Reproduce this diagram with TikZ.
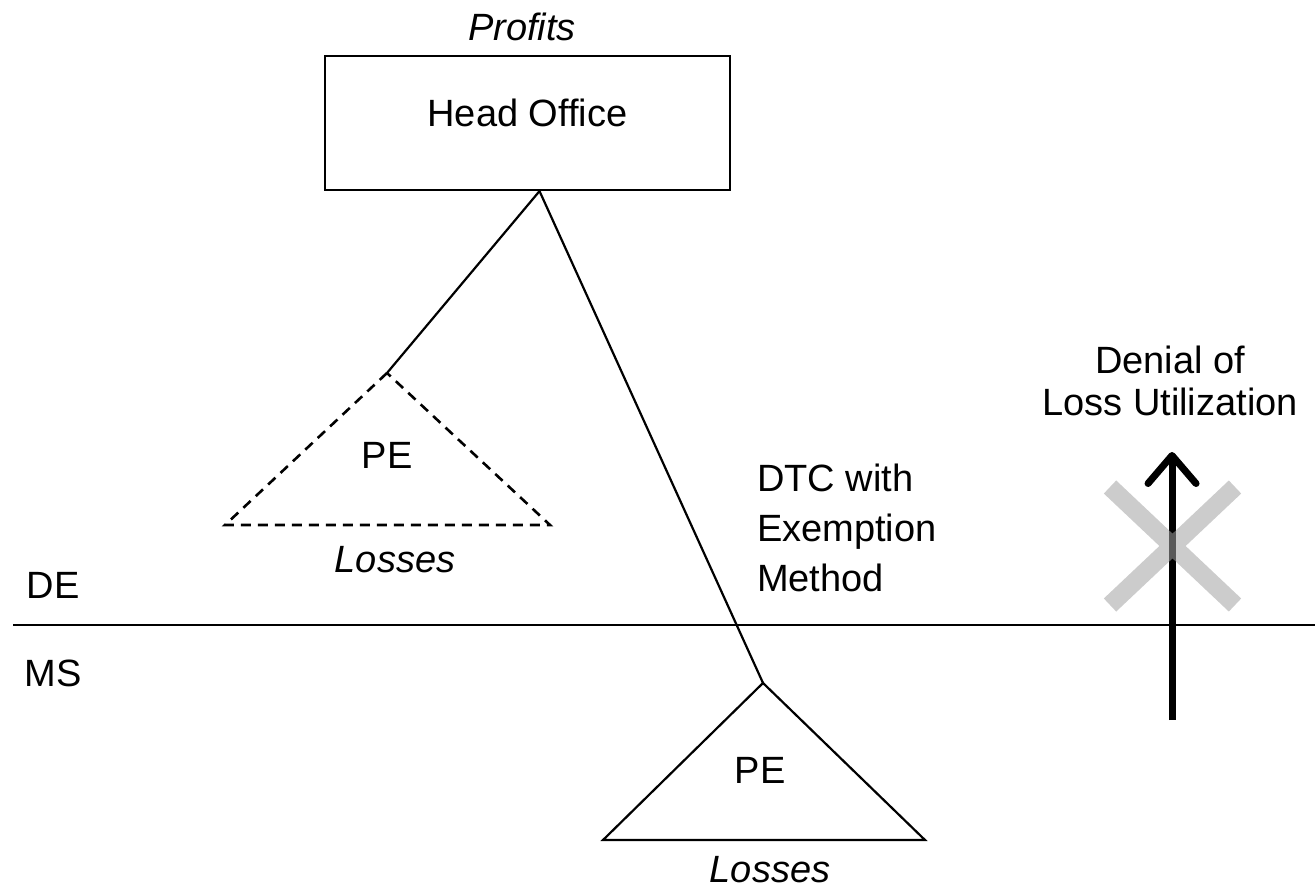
\documentclass[tikz,border=0pt]{standalone}
\usepackage{fontspec}
\setmainfont{Liberation Sans}
\usetikzlibrary{arrows.meta}
\usetikzlibrary{positioning}

\tikzset{
  every node/.style={font=\fontsize{19}{23}\selectfont, inner sep=0pt},
  lbl it/.style={font=\fontsize{19}{23}\selectfont\itshape},
  pe dashed/.style={line width=1.3pt, dash pattern=on 5pt off 3.5pt},
  cross mark/.style={line width=9pt, draw=black!36, opacity=0.55}
}

\begin{document}
\begin{tikzpicture}[x=0.5pt, y=-0.5pt, line width=1.1pt]

\useasboundingbox (0,0) rectangle (1315,888);

% head office
\node [draw, minimum width=202.5pt, minimum height=67pt] (ho) at (527.5,123) {};
\node (ho-text) at ([yshift=5pt]ho.center) {Head Office};
\node [lbl it] (profits) at (522,27) {Profits};

% the two permanent establishments
\coordinate (apex-de) at (387,373);
\coordinate (apex-ms) at (763,683);

\draw ([xshift=6pt]ho.south) -- (apex-de);
\draw ([xshift=6pt]ho.south) -- (apex-ms);

\draw [pe dashed] (apex-de) -- (225,525) -- (550,525) -- cycle;
\draw (apex-ms) -- (603,840) -- (925,840) -- cycle;

\foreach \s/\px/\py in {de/387/455, ms/760/770}
  \node (pe-\s) at (\px,\py) {PE};

\node [lbl it] (loss-de) at (395,560) {Losses};
\node [lbl it] (loss-ms) at (770,870) {Losses};

% border between the states
\coordinate (border-l) at (13,625);
\coordinate (border-r) at (1315,625);
\draw (border-l) -- (border-r);

\node (de) at (53,585) {DE};
\node (ms) at (53,673) {MS};

\node [align=left, anchor=west, font=\fontsize{19}{25}\selectfont] (dtc)
  at (756,528) {DTC with\\Exemption\\Method};

% denied loss utilization
\node [align=center, font=\fontsize{19}{21}\selectfont] (denial)
  at (1170,381) {Denial of\\Loss Utilization};

\coordinate (arr-foot) at (1172,720);
\coordinate (arr-tip) at (1172,452);
\draw [-{Straight Barb[length=14pt, width=24pt, line width=3.5pt, round]},
  line width=3.5pt] (arr-foot) -- (arr-tip);

\draw [cross mark] (1110,487) -- (1235,605) (1235,487) -- (1110,605);

\end{tikzpicture}
\end{document}
